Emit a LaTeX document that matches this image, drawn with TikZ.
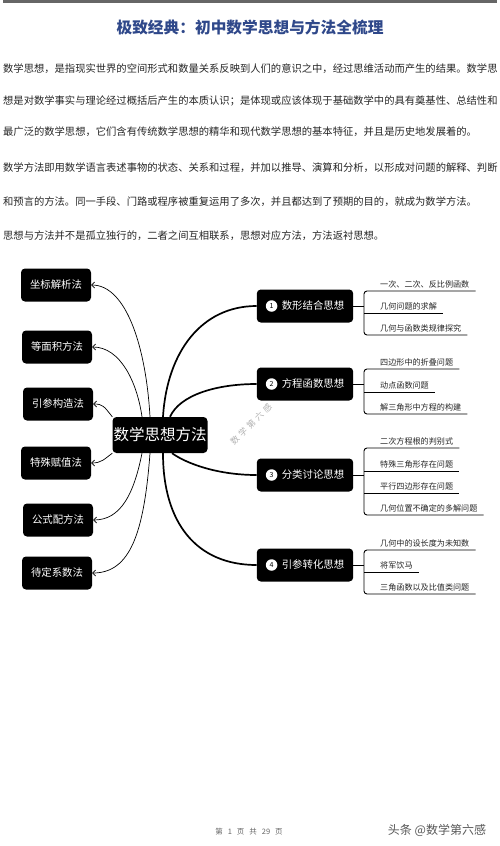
\documentclass[tikz,border=0pt]{standalone}
\usepackage{fontspec}
\setmainfont{Noto Sans CJK SC}
\usetikzlibrary{arrows.meta, positioning, calc}

\definecolor{titleblue}{RGB}{47,72,138}

\begin{document}
\begin{tikzpicture}[
  x=1pt, y=-1pt,
  >={Straight Barb[length=3pt,width=6pt]},
  line/.style={anchor=base west, inner sep=0pt, text=black!85, font=\fontsize{10.3}{12}\selectfont},
  hub/.style={rectangle, fill=black, rounded corners=4pt, text=white, minimum width=95pt, minimum height=36pt, inner sep=0pt, font=\fontsize{15.5}{17}\selectfont},
  method/.style={rectangle, fill=black, rounded corners=4pt, text=white, minimum width=70pt, minimum height=33pt, inner sep=0pt, font=\fontsize{10.4}{12}\selectfont},
  idea/.style={rectangle, fill=black, rounded corners=4pt, text=white, minimum height=33pt, inner xsep=0pt, inner ysep=0pt, font=\fontsize{10.4}{12}\selectfont},
  numdot/.style={circle, fill=white, text=black, minimum size=11.5pt, inner sep=0pt, font=\fontsize{7}{8}\selectfont},
  leaf/.style={anchor=south west, inner xsep=0pt, inner ysep=3pt, text depth=0pt, text=black!85, font=\fontsize{8.1}{9}\selectfont},
  twig/.style={draw=black, line width=0.9pt},
  thinlink/.style={->, draw=black, line width=0.7pt},
  thicklink/.style={draw=black, line width=1.7pt},
  wmark/.style={text=black!30, font=\fontsize{8.5}{9}\selectfont\addfontfeature{LetterSpace=35}}
]
\useasboundingbox (0,0) rectangle (500,846);
\fill[white] (0,0) rectangle (500,846);
\fill[black!60] (3,0) rectangle (497,2.5);

% Title and text
\node[text=titleblue, font=\fontsize{15.7}{18}\selectfont\bfseries] (title) at (250,27) {极致经典：初中数学思想与方法全梳理};

\node[line] (p1) at (3,72) {数学思想，是指现实世界的空间形式和数量关系反映到人们的意识之中，经过思维活动而产生的结果。数学思};
\node[line] (p2) at (3,104) {想是对数学事实与理论经过概括后产生的本质认识；是体现或应该体现于基础数学中的具有奠基性、总结性和};
\node[line] (p3) at (3,135) {最广泛的数学思想，它们含有传统数学思想的精华和现代数学思想的基本特征，并且是历史地发展着的。};
\node[line] (p4) at (3,171) {数学方法即用数学语言表述事物的状态、关系和过程，并加以推导、演算和分析，以形成对问题的解释、判断};
\node[line] (p5) at (3,205) {和预言的方法。同一手段、门路或程序被重复运用了多次，并且都达到了预期的目的，就成为数学方法。};
\node[line] (p6) at (3,239) {思想与方法并不是孤立独行的，二者之间互相联系，思想对应方法，方法返衬思想。};

% Center
\node[hub] (mid) at (160,435) {数学思想方法};

% Left methods
\node[method] (l1) at (56,285) {坐标解析法};
\node[method] (l2) at (57,347) {等面积方法};
\node[method] (l3) at (58,404) {引参构造法};
\node[method] (l4) at (56,463) {特殊赋值法};
\node[method] (l5) at (58,520) {公式配方法};
\node[method] (l6) at (57,573) {待定系数法};

\draw[thinlink] ([xshift=-10pt]mid.north) .. controls +(-4,-70) and +(35,0) .. (l1.east);
\draw[thinlink] ([xshift=-18pt]mid.north) .. controls +(-5,-35) and +(28,0) .. (l2.east);
\draw[thinlink] (mid.north west) .. controls +(-8,-10) and +(10,0) .. (l3.east);
\draw[thinlink] (mid.south west) .. controls +(-8,6) and +(10,0) .. (l4.east);
\draw[thinlink] ([xshift=-18pt]mid.south) .. controls +(-8,40) and +(28,0) .. (l5.east);
\draw[thinlink] ([xshift=-10pt]mid.south) .. controls +(-6,80) and +(38,0) .. (l6.east);

% Right ideas
\node[idea] (r1) at (305,306) {\hspace*{25pt}数形结合思想\hspace*{9pt}};
\node[idea] (r2) at (305,384) {\hspace*{25pt}方程函数思想\hspace*{9pt}};
\node[idea] (r3) at (305,475) {\hspace*{25pt}分类讨论思想\hspace*{9pt}};
\node[idea] (r4) at (305,565) {\hspace*{25pt}引参转化思想\hspace*{9pt}};

\foreach \i in {1,...,4} {
    \node[numdot] (n\i) at ([xshift=15pt]r\i.west) {\i};
}

\draw[thicklink] ([xshift=3pt]mid.north) .. controls +(4,-65) and +(-55,0) .. (r1.west);
\draw[thicklink] ([xshift=10pt]mid.north) .. controls +(10,-22) and +(-40,0) .. (r2.west);
\draw[thicklink] ([xshift=12pt]mid.south) .. controls +(14,10) and +(-40,0) .. (r3.west);
\draw[thicklink] ([xshift=3pt]mid.south) .. controls +(0,70) and +(-60,0) .. (r4.west);

% Leaves
\foreach \t/\u [count=\i] in {一次、二次、反比例函数/291, 几何问题的求解/313, 几何与函数类规律探究/335} {
    \node[leaf] (a\i) at (364,\u) {\hspace*{16pt}\t\hspace*{6pt}};
}
\foreach \t/\u [count=\i] in {四边形中的折叠问题/369, 动点函数问题/392, 解三角形中方程的构建/414} {
    \node[leaf] (b\i) at (364,\u) {\hspace*{16pt}\t\hspace*{6pt}};
}
\foreach \t/\u [count=\i] in {二次方程根的判别式/448, 特殊三角形存在问题/471, 平行四边形存在问题/493, 几何位置不确定的多解问题/515} {
    \node[leaf] (c\i) at (364,\u) {\hspace*{16pt}\t\hspace*{6pt}};
}
\foreach \t/\u [count=\i] in {几何中的设长度为未知数/550, 将军饮马/572, 三角函数以及比值类问题/594} {
    \node[leaf] (d\i) at (364,\u) {\hspace*{16pt}\t\hspace*{6pt}};
}

\draw[twig, rounded corners=3pt] (a1.south east) -- (a1.south west) -- (a3.south west) -- (a3.south east);
\draw[twig, rounded corners=3pt] (b1.south east) -- (b1.south west) -- (b3.south west) -- (b3.south east);
\draw[twig, rounded corners=3pt] (c1.south east) -- (c1.south west) -- (c4.south west) -- (c4.south east);
\draw[twig, rounded corners=3pt] (d1.south east) -- (d1.south west) -- (d3.south west) -- (d3.south east);
\foreach \j in {a2, b2, c2, c3, d2} {
    \draw[twig] (\j.south west) -- (\j.south east);
}
\draw[twig] (r1.east) -- (r1.east -| a1.south west);
\draw[twig] (r2.east) -- (r2.east -| b1.south west);
\draw[twig] (r3.east) -- (r3.east -| c1.south west);
\draw[twig] (r4.east) -- (r4.east -| d1.south west);

% Marks and footer
\node[wmark, rotate=45] (wm) at (251,424) {数学第六感};
\node[text=black!60, font=\fontsize{7.5}{9}\selectfont] (pg) at (249,832) {第\hspace{5pt}1\hspace{5pt}页\hspace{5pt}共\hspace{5pt}29\hspace{5pt}页};
\node[text=black!65, font=\fontsize{12}{14}\selectfont] (tt) at (437,830) {头条 @数学第六感};

\end{tikzpicture}
\end{document}
